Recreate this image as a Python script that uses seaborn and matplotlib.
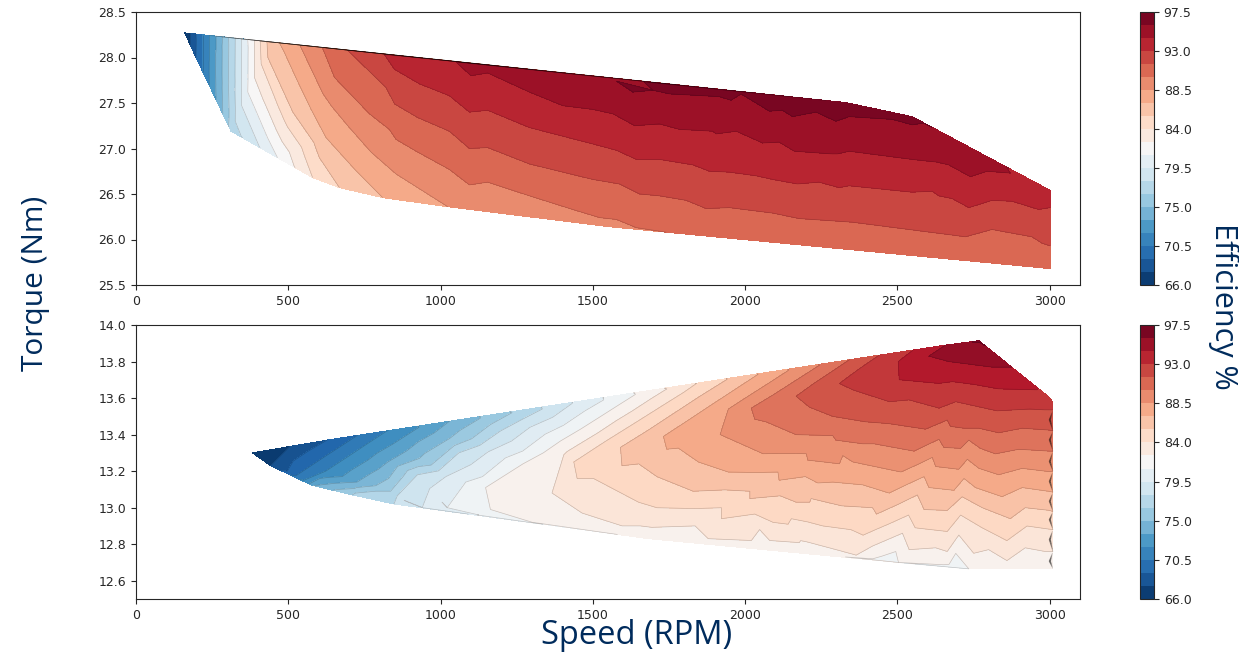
import numpy as np
import matplotlib
matplotlib.use("Agg")
import matplotlib.pyplot as plt
import matplotlib.tri as mtri
import seaborn as sns

# Rated torque sweep: efficiency samples
top_eff = [66, 67.5, 69, 70.5, 72, 73.5, 75, 76.5, 77, 78, 79.5, 81, 82.5, 84, 85.5, 87, 88.5,
           89.7, 90, 90.9, 91.5, 93, 93.7, 94.5, 95.8, 96, 96.4, 96.5, 96.8]
top_speed = [
    [160],
    [178, 178],
    [197, 197],
    [219, 219],
    [241, 241],
    [263, 263],
    [285, 285],
    [304, 304],
    [312],
    [326, 326, 346],
    [347, 347, 405],
    [367, 367, 463],
    [389, 389, 520],
    [408, 411, 580],
    [430, 433, 515, 668],
    [471, 575, 624, 810],
    [539, 641, 772, 854, 1024],
    [1555],
    [613, 652, 767, 832, 854, 876, 920, 1029, 1095, 1155, 1292, 1434, 1523, 1578, 1643, 1741],
    [3002],
    [695, 821, 849, 887, 925, 1029, 1095, 1155, 1292, 1500, 1588, 1654, 1719, 1807, 1850, 1872, 1889, 1949, 1981,
     2036, 2091, 2112, 2178, 2254, 2309, 2353, 2505, 2615, 2653, 2680, 2724, 2811, 2942, 2975, 2986, 3002],
    [816, 849, 892, 931, 1029, 1095, 1155, 1292, 1500, 1578, 1643, 1719, 1829, 1872, 1883, 1900, 1949, 1976, 2036,
     2091, 2112, 2172, 2183, 2243, 2309, 2320, 2342, 2549, 2615, 2636, 2680, 2696, 2735, 2811, 2877, 2964, 2980, 3002],
    [3002],
    [1051, 1100, 1155, 1292, 1402, 1500, 1567, 1638, 1719, 1785, 1894, 1905, 1971, 2058, 2112, 2162, 2178, 2287,
     2303, 2314, 2342, 2549, 2615, 2631, 2669, 2696, 2740, 2795, 2871],
    [1555],
    [1578, 1632, 1698, 1752, 1916, 1954, 1987, 2080, 2123, 2156, 2167, 2233, 2298, 2309, 2342, 2484, 2549, 2587],
    [2549],
    [1950],
    [2331],
]
top_torque = [
    [28.27],
    [28.26, 28.14],
    [28.25, 28.0],
    [28.25, 27.85],
    [28.24, 27.69],
    [28.23, 27.54],
    [28.22, 27.38],
    [28.22, 27.25],
    [27.19],
    [28.21, 27.30, 27.13],
    [28.20, 27.47, 27.02],
    [28.19, 27.62, 26.91],
    [28.19, 27.78, 26.80],
    [28.18, 27.93, 26.68],
    [28.17, 28.0, 27.40, 26.57],
    [28.16, 27.43, 27.12, 26.46],
    [28.13, 27.47, 26.96, 26.72, 26.36],
    [26.14],
    [28.10, 27.78, 27.38, 27.21, 27.10, 27.12, 26.97, 26.77, 26.60, 26.63, 26.48, 26.33, 26.24, 26.22, 26.13, 26.08],
    [25.68],
    [28.08, 27.67, 27.49, 27.51, 27.34, 27.19, 27.0, 27.01, 26.83, 26.66, 26.61, 26.5, 26.48, 26.43, 26.42, 26.34, 26.44,
     26.35, 26.42, 26.34, 26.29, 26.36, 26.23, 26.25, 26.24, 26.19, 26.17, 26.15, 26.16, 26.08, 26.03, 26.11, 26.03,
     25.96, 26.08, 25.93],
    [28.03, 27.87, 27.91, 27.71, 27.58, 27.40, 27.42, 27.23, 27.05, 26.98, 26.88, 26.88, 26.82, 26.81, 26.75, 26.81,
     26.74, 26.80, 26.70, 26.66, 26.71, 26.61, 26.64, 26.63, 26.57, 26.64, 26.59, 26.52, 26.53, 26.48, 26.45, 26.47,
     26.35, 26.43, 26.42, 26.33, 26.52, 26.35],
    [26.54],
    [27.95, 27.80, 27.83, 27.62, 27.47, 27.43, 27.38, 27.25, 27.27, 27.21, 27.19, 27.16, 27.19, 27.06, 27.07, 26.97,
     27.06, 26.94, 26.94, 27.04, 26.97, 26.88, 26.90, 26.85, 26.82, 26.86, 26.69, 26.75, 26.73],
    [27.77],
    [27.74, 27.62, 27.64, 27.60, 27.57, 27.53, 27.60, 27.41, 27.42, 27.35, 27.46, 27.40, 27.30, 27.41, 27.35, 27.32,
     27.26, 27.28],
    [27.35],
    [27.635],
    [27.505],
]

# Half torque sweep, the last rows are the narrow dip along the 3000 RPM column
low_eff = [66, 67.31, 68.63, 69.94, 71.25, 72.56, 73.88, 75.19, 76.5, 77.81, 79.13, 80.44, 81.2, 81.75, 82.3,
           83.06, 84.38, 85.69, 87, 88.31, 89.63, 90.94, 92.25, 92.6, 93.0, 93.56, 94.88, 96.19, 96.5,
           91.6, 90.3, 89.0, 87.65, 86.35, 85.0, 83.7, 82.4,
           84.6, 83.3, 82.0, 80.65, 79.35, 78.0, 76.7, 75.4]
low_speed = [
    [382],
    [502, 442],
    [628, 497],
    [722, 625, 530],
    [824, 757, 690, 623, 551],
    [929, 845, 761, 677, 568],
    [1027, 927, 827, 726, 584],
    [1131, 1031, 931, 830, 787, 666],
    [1235, 1102, 969, 836, 721, 710],
    [1334, 1197, 1060, 924, 787, 847],
    [1432, 1294, 1156, 1018, 880, 940],
    [1536, 1403, 1270, 1138, 1005, 1022, 1126],
    [2460, 2705],
    [1640, 1517, 1394, 1271, 1148, 1164, 1224, 1301, 2419, 2495, 2504, 2670, 2692, 2735],
    [1684, 2200, 2600, 3011],
    [1743, 1630, 1517, 1405, 1292, 1306, 1366, 1465, 1596, 1656, 1836, 1836, 1879, 2048, 2021, 2081, 2070, 2299, 2365,
     2419, 2517, 2539, 2626, 2664, 2702, 2751, 2800, 2860, 2920, 2985, 3011],
    [1841, 1740, 1640, 1539, 1438, 1449, 1503, 1651, 1711, 1923, 1923, 2119, 2092, 2152, 2141, 2348, 2388, 2537, 2559,
     2664, 2708, 2779, 2860, 2926, 3011],
    [1939, 1852, 1765, 1678, 1591, 1596, 1651, 1711, 1830, 2016, 2016, 2190, 2168, 2217, 2212, 2419, 2432, 2566, 2588,
     2664, 2713, 2779, 2871, 2920, 3011],
    [2043, 1965, 1887, 1810, 1732, 1743, 1781, 1847, 1945, 2108, 2112, 2256, 2239, 2288, 2473, 2588, 2604, 2686, 2719,
     2757, 2844, 2910, 3011],
    [2141, 2076, 2010, 1945, 1879, 1890, 1918, 2059, 2201, 2206, 2321, 2310, 2354, 2512, 2615, 2626, 2702, 2730, 2768,
     2833, 2910, 3011],
    [2245, 2170, 2095, 2021, 2032, 2070, 2168, 2288, 2299, 2403, 2386, 2419, 2424, 2555, 2637, 2653, 2708, 2735, 2773,
     2822, 2899, 3011],
    [2343, 2285, 2226, 2168, 2212, 2288, 2397, 2463, 2474, 2593, 2664, 2675, 2719, 2735, 2768, 2833, 2910, 3011],
    [2441, 2375, 2310, 2354, 2474, 2539, 2637, 2692, 2828, 3011],
    [3011],
    [3002],
    [2550, 2503, 2457, 2506, 2637, 2833, 2959],
    [2659, 2604, 2670, 2811, 2871],
    [2746, 2773],
    [2768],
    [2998, 3004], [2998, 3004], [2998, 3004], [2998, 3004], [2998, 3004], [2998, 3004], [2998, 3004], [2998, 3004],
    [3001], [3001], [3001], [3001], [3001], [3001], [3001], [3001],
]
low_torque = [
    [13.30],
    [13.33, 13.23],
    [13.37, 13.20],
    [13.39, 13.285, 13.18],
    [13.42, 13.347, 13.273, 13.20, 13.15],
    [13.44, 13.35, 13.26, 13.17, 13.13],
    [13.47, 13.36, 13.25, 13.14, 13.12],
    [13.49, 13.38, 13.27, 13.16, 13.12, 13.10],
    [13.52, 13.377, 13.233, 13.09, 13.08, 13.07],
    [13.54, 13.42, 13.30, 13.18, 13.06, 13.02],
    [13.57, 13.44, 13.305, 13.17, 13.04, 13.0],
    [13.59, 13.45, 13.31, 13.17, 13.03, 13.0, 12.96],
    [12.71, 12.675],
    [13.62, 13.49, 13.365, 13.24, 13.11, 12.99, 13.0, 12.92, 12.72, 12.76, 12.70, 12.69, 12.75, 12.665],
    [12.83, 12.75, 12.70, 12.665],
    [13.65, 13.53, 13.41, 13.29, 13.17, 13.07, 13.08, 12.97, 12.90, 12.90, 12.90, 12.84, 12.83, 12.88, 12.82, 12.82,
     12.80, 12.77, 12.74, 12.79, 12.86, 12.77, 12.78, 12.76, 12.85, 12.75, 12.77, 12.71, 12.78, 12.76, 12.76],
    [13.68, 13.57, 13.465, 13.36, 13.25, 13.16, 13.16, 13.03, 13.0, 13.0, 12.94, 12.98, 12.92, 12.94, 12.91, 12.88,
     12.85, 12.96, 12.89, 12.87, 12.96, 12.89, 12.82, 12.90, 12.88],
    [13.70, 13.61, 13.515, 13.42, 13.33, 13.23, 13.24, 13.17, 13.09, 13.09, 13.05, 13.08, 13.03, 13.05, 13.03, 13.0,
     12.965, 13.07, 12.99, 12.985, 13.06, 13.0, 12.94, 13.0, 12.98],
    [13.73, 13.645, 13.56, 13.475, 13.39, 13.32, 13.326, 13.25, 13.195, 13.195, 13.15, 13.18, 13.135, 13.14, 13.08,
     13.17, 13.11, 13.095, 13.16, 13.11, 13.06, 13.11, 13.085],
    [13.75, 13.68, 13.61, 13.54, 13.47, 13.41, 13.40, 13.295, 13.295, 13.26, 13.285, 13.24, 13.25, 13.195, 13.275,
     13.225, 13.21, 13.265, 13.215, 13.18, 13.215, 13.20],
    [13.78, 13.70, 13.62, 13.545, 13.485, 13.47, 13.40, 13.395, 13.37, 13.39, 13.35, 13.37, 13.35, 13.31, 13.375,
     13.33, 13.325, 13.37, 13.325, 13.295, 13.32, 13.31],
    [13.81, 13.745, 13.68, 13.61, 13.55, 13.50, 13.47, 13.49, 13.46, 13.43, 13.48, 13.445, 13.435, 13.475, 13.435,
     13.41, 13.435, 13.42],
    [13.835, 13.76, 13.68, 13.645, 13.58, 13.59, 13.545, 13.58, 13.53, 13.535],
    [13.57],
    [13.60],
    [13.86, 13.80, 13.745, 13.70, 13.68, 13.65, 13.645],
    [13.89, 13.83, 13.80, 13.77, 13.77],
    [13.907, 13.903],
    [13.914],
    [13.481, 13.481], [13.371, 13.371], [13.253, 13.253], [13.144, 13.144], [13.035, 13.035], [12.934, 12.934],
    [12.825, 12.825], [12.707, 12.707],
    [13.481], [13.371], [13.253], [13.144], [13.035], [12.934], [12.825], [12.707],
]

speed_ticks = [0, 500, 1000, 1500, 2000, 2500, 3000]
top_torque_ticks = [25.5, 26.0, 26.5, 27.0, 27.5, 28.0, 28.5]
low_torque_ticks = [12.6, 12.8, 13.0, 13.2, 13.4, 13.6, 13.8, 14.0]
eff_ticks = [66.0, 70.5, 75.0, 79.5, 84.0, 88.5, 93.0, 97.5]


def build_tri(speed, torque, eff, ylim):
    """Triangule à l'échelle de l'écran, sinon Delaunay relie n'importe quoi."""
    x, y, z = [], [], []
    for s, t, e in zip(speed, torque, eff):
        assert len(s) == len(t), (e, len(s), len(t))
        x += s
        y += t
        z += [e] * len(s)
    x, y = np.array(x, float), np.array(y, float)
    scaled = mtri.Triangulation(x / 3100 * 944, (y - ylim[0]) / (ylim[1] - ylim[0]) * 273)
    return mtri.Triangulation(x, y, scaled.triangles), np.array(z, float)


sns.set_style("ticks")
plt.rcParams['font.family'] = ['DejaVu Sans']
cmap = sns.color_palette("RdBu_r", as_cmap=True)
navy = '#002b5c'

fig = plt.figure(figsize=(12.39, 6.54), dpi=100)
W, H = 1239, 654
ax_top = fig.add_axes([136 / W, 1 - 285 / H, 944 / W, 273 / H])
ax_low = fig.add_axes([136 / W, 1 - 599 / H, 944 / W, 274 / H])
cax_top = fig.add_axes([1140 / W, 1 - 285 / H, 14 / W, 273 / H])
cax_low = fig.add_axes([1140 / W, 1 - 599 / H, 14 / W, 274 / H])

top_levels = np.linspace(66, 97.5, 22)
low_levels = np.linspace(66, 97.5, 25)

tri, z = build_tri(top_speed, top_torque, top_eff, (25.5, 28.5))
cs = ax_top.tricontourf(tri, z, levels=top_levels, cmap=cmap)
ax_top.tricontour(tri, z, levels=top_levels, colors='k', linewidths=0.5, alpha=0.2)

tri, z = build_tri(low_speed, low_torque, low_eff, (12.5, 14.0))
ax_low.tricontourf(tri, z, levels=low_levels, cmap=cmap)
ax_low.tricontour(tri, z, levels=low_levels, colors='k', linewidths=0.5, alpha=0.2)

ax_top.set_ylim(25.5, 28.5)
ax_top.set_yticks(top_torque_ticks)
ax_low.set_ylim(12.5, 14.0)
ax_low.set_yticks(low_torque_ticks)
for ax in (ax_top, ax_low):
    ax.set_xlim(0, 3100)
    ax.set_xticks(speed_ticks)
    ax.tick_params(labelsize=9, length=3.5, width=0.8)
    ax.yaxis.set_major_formatter('{x:.1f}')
    for spine in ax.spines.values():
        spine.set_linewidth(0.8)

for cax in (cax_top, cax_low):
    cb = fig.colorbar(cs, cax=cax, ticks=eff_ticks, format='%.1f')
    cb.ax.tick_params(labelsize=9, length=3.5, width=0.8)
    cb.outline.set_linewidth(0.8)

label_font = dict(family='Open Sans', color=navy, ha='center', va='center')
fig.text(36 / W, 1 - 283 / H, 'Torque (Nm)', rotation=90, fontsize=21.5, **label_font)
fig.text(637 / W, 1 - 636 / H, 'Speed (RPM)', fontsize=23.5, **label_font)
fig.text(1223 / W, 1 - 306 / H, 'Efficiency %', rotation=270, fontsize=22, **label_font)

fig.savefig('out.png', dpi=100)
